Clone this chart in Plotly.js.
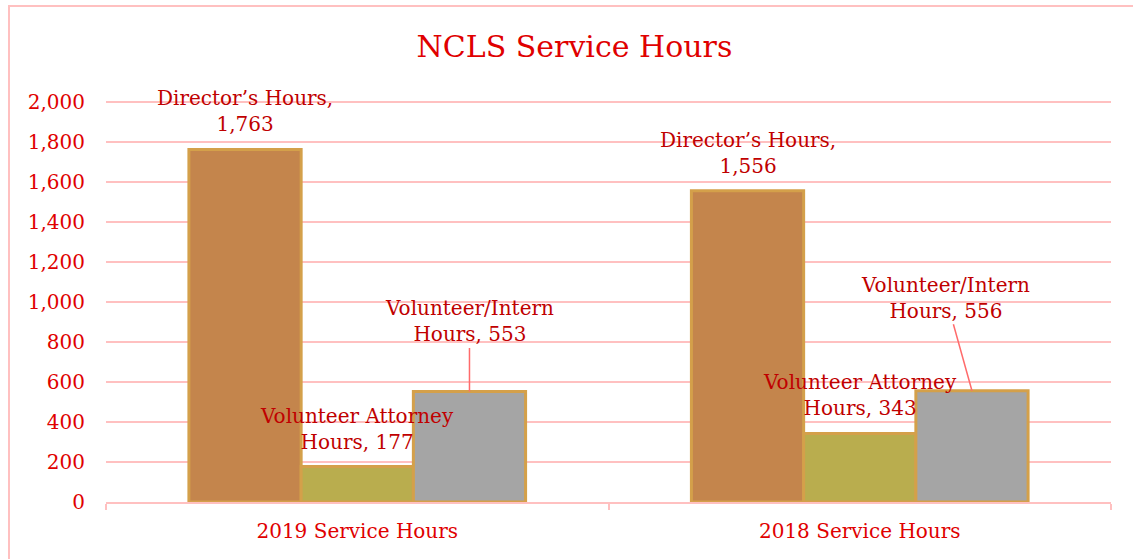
<!DOCTYPE html>
<html>
<head>
<meta charset="utf-8">
<script src="https://cdn.plot.ly/plotly-3.0.1.min.js"></script>
<style>
  body { margin: 0; background: #fff; }
  #frame { position: absolute; left: 8px; top: 5px; width: 1200px; height: 600px; border: 2px solid #FFC0C0; }
  #chart { position: absolute; left: 0; top: 0; width: 1133px; height: 559px; }
</style>
</head>
<body>
<div id="frame"></div>
<div id="chart"></div>
<script>
var CHART = document.getElementById("chart");

var categories = ["2019 Service Hours", "2018 Service Hours"];
var seriesNames = ["Director’s Hours", "Volunteer Attorney Hours", "Volunteer/Intern Hours"];
var directorHours = [1763, 1556];
var attorneyHours = [177, 343];
var internHours = [553, 556];
var yTicks = [0, 200, 400, 600, 800, 1000, 1200, 1400, 1600, 1800, 2000];

var colors = ["#C4854C", "#B9AD4E", "#A5A5A5"];
var serif = "DejaVu Serif, serif";

var allValues = [directorHours, attorneyHours, internHours];

var data = allValues.map(function (vals, i) {
    return {
        x: categories,
        y: vals,
        name: seriesNames[i],
        type: 'bar',
        marker: { color: colors[i], line: { color: '#D4A04A', width: 3 } },
        hoverinfo: 'y'
    };
});

// label text: first line, then start of second line (value appended)
var labelLines = [
    ["Director’s Hours,", ""],
    ["Volunteer Attorney", "Hours, "],
    ["Volunteer/Intern", "Hours, "]
];

var barW = 0.67 / 3;
var annotations = [];
allValues.forEach(function (vals, s) {
    vals.forEach(function (v, c) {
        var txt = labelLines[s][0] + "<br>" + labelLines[s][1] + v.toLocaleString('en-US');
        var a = {
            x: c + (s - 1) * barW,
            y: v,
            xref: 'x', yref: 'y',
            text: txt,
            font: { family: serif, size: 20, color: '#C00000' },
            showarrow: false,
            yanchor: 'bottom',
            yshift: 11
        };
        if (s === 2) {
            a.showarrow = true;
            a.arrowhead = 0;
            a.arrowwidth = 1.5;
            a.arrowcolor = '#FF6B6B';
            a.ax = c === 0 ? 0 : -26;
            a.ay = c === 0 ? -70 : -93;
            a.yanchor = 'middle';
            a.yshift = 0;
        }
        annotations.push(a);
    });
});

var layout = {
    width: 1133,
    height: 559,
    margin: { l: 106, r: 22, t: 100, b: 57 },
    paper_bgcolor: 'rgba(0,0,0,0)',
    plot_bgcolor: 'rgba(0,0,0,0)',
    showlegend: false,
    bargap: 0.33,
    bargroupgap: 0,
    title: {
        text: "NCLS Service Hours",
        font: { family: serif, size: 30, color: '#E00000' },
        x: 0.507, xref: 'container', xanchor: 'center',
        y: 0.916, yref: 'container', yanchor: 'middle'
    },
    xaxis: {
        type: 'category',
        tickson: 'boundaries',
        ticks: 'outside',
        ticklen: 6,
        tickwidth: 2,
        tickcolor: '#FFC0C0',
        showline: true,
        linecolor: '#FFC0C0',
        linewidth: 2,
        ticklabelstandoff: 10,
        tickfont: { family: serif, size: 20, color: '#E00000' }
    },
    yaxis: {
        range: [0, 2010],
        tickvals: yTicks,
        tickformat: ',d',
        showgrid: true,
        gridcolor: '#FFC0C0',
        gridwidth: 2,
        zeroline: false,
        showline: false,
        ticklabelstandoff: 20,
        tickfont: { family: serif, size: 20, color: '#E00000' }
    },
    annotations: annotations
};

Plotly.newPlot(CHART, data, layout, { displayModeBar: false });
</script>
</body>
</html>
